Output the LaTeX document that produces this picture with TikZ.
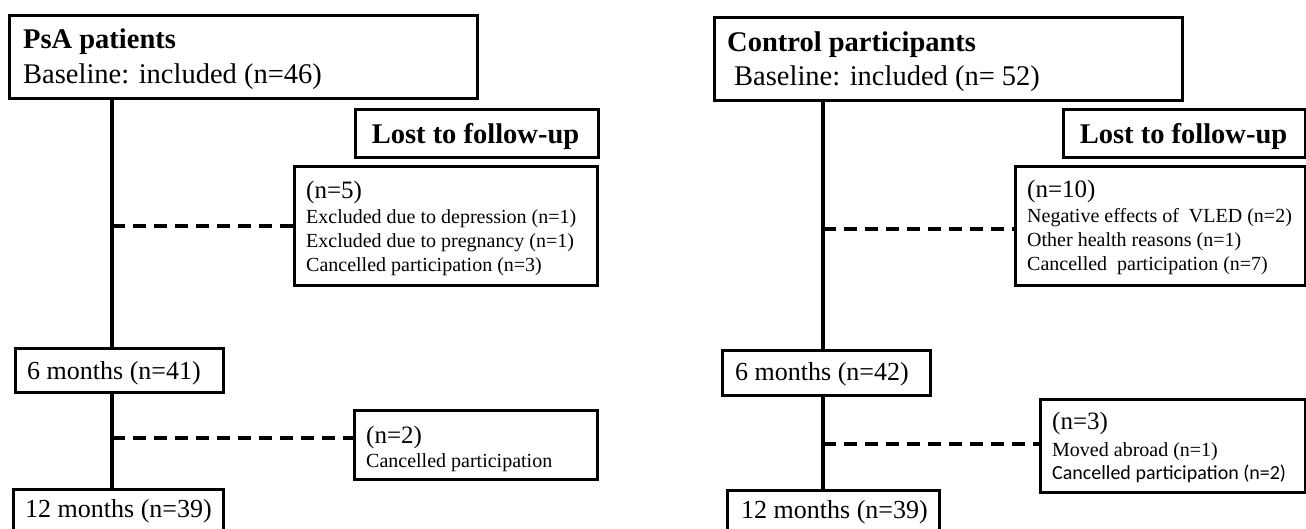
\documentclass[tikz,border=0pt]{standalone}
\usepackage{fontspec}
\setmainfont{Liberation Serif}
\newfontfamily\calibsans{Carlito}
\newcommand\szA{\fontsize{28.5}{34}\selectfont}
\newcommand\szB{\fontsize{25}{30}\selectfont}
\newcommand\szC{\fontsize{26}{31}\selectfont}
\newcommand\szD{\fontsize{20}{24}\selectfont}
\begin{document}
\begin{tikzpicture}[x=1pt,y=-1pt,
  box/.style={draw, line width=3.3pt, inner sep=0pt, anchor=north west},
  txt/.style={anchor=base west, inner sep=0pt},
  ctxt/.style={anchor=base, inner sep=0pt},
  vline/.style={line width=3.3pt},
  dline/.style={line width=3.6pt, dash pattern=on 13pt off 8pt}]
\useasboundingbox (0,0) rectangle (1306,528);
\clip (0,0) rectangle (1306,528);

% ---------- left panel ----------
\node[box, minimum width=468pt, minimum height=83pt] (psa) at (8,14) {};
\node[txt] (psat) at (23,48) {\szA\bfseries PsA patients};
\node[txt] (psab) at (23,83) {\szA Baseline: included (n=46)};

\node[box, minimum width=243pt, minimum height=48pt] (lostL) at (354,108) {};
\node[ctxt] (lostLt) at (475.5,143) {\szA\bfseries Lost to follow-up};

\node[box, minimum width=303pt, minimum height=119pt] (n5) at (293,165) {};
\node[txt] (n5a) at (306,198) {\szB (n=5)};
\node[txt] (n5b) at (306,223) {\szD Excluded due to depression (n=1)};
\node[txt] (n5c) at (306,247) {\szD Excluded due to pregnancy (n=1)};
\node[txt] (n5d) at (306,271) {\szD Cancelled participation (n=3)};

\node[box, minimum width=208pt, minimum height=44pt] (m6L) at (14,347) {};
\node[txt] (m6Lt) at (27,379) {\szC 6 months (n=41)};

\node[box, minimum width=243pt, minimum height=69pt] (n2) at (353,409) {};
\node[txt] (n2a) at (366,443) {\szB (n=2)};
\node[txt] (n2b) at (366,467) {\szD Cancelled participation};

\node[box, minimum width=210pt, minimum height=60pt] (m12L) at (12,488) {};
\node[txt] (m12Lt) at (25,517) {\szC 12 months (n=39)};

\coordinate (Lx) at (112,0);
\draw[vline] (psa.south -| Lx) -- (m6L.north -| Lx);
\draw[vline] (m6L.south -| Lx) -- (m12L.north -| Lx);
\coordinate (dL1) at (112,226);
\coordinate (dL2) at (112,438);
\draw[dline] (dL1) -- (dL1 -| n5.west);
\draw[dline] (dL2) -- (dL2 -| n2.west);

% ---------- right panel ----------
\node[box, minimum width=468pt, minimum height=83pt] (ctl) at (713,16) {};
\node[txt] (ctlt) at (727,51) {\szA\bfseries Control participants};
\node[txt] (ctlb) at (734,85) {\szA Baseline: included (n= 52)};

\node[box, minimum width=242pt, minimum height=48pt] (lostR) at (1062,108) {};
\node[ctxt] (lostRt) at (1183.5,143) {\szA\bfseries Lost to follow-up};

\node[box, minimum width=290pt, minimum height=119pt] (n10) at (1014,165) {};
\node[txt] (n10a) at (1027,197) {\szB (n=10)};
\node[txt] (n10b) at (1027,222) {\szD Negative effects of\ \ VLED (n=2)};
\node[txt] (n10c) at (1027,246) {\szD Other health reasons (n=1)};
\node[txt] (n10d) at (1027,270) {\szD Cancelled\ \ participation (n=7)};

\node[box, minimum width=208pt, minimum height=45pt] (m6R) at (721,349) {};
\node[txt] (m6Rt) at (735,380) {\szC 6 months (n=42)};

\node[box, minimum width=265pt, minimum height=93pt] (n3) at (1039,398) {};
\node[txt] (n3a) at (1052,429) {\szB (n=3)};
\node[txt] (n3b) at (1052,456) {\szD Moved abroad (n=1)};
\node[txt] (n3c) at (1052,479) {\calibsans\szD Cancelled participation (n=2)};

\node[box, minimum width=212pt, minimum height=60pt] (m12R) at (726,489) {};
\node[txt] (m12Rt) at (741,518) {\szC 12 months (n=39)};

\coordinate (Rx) at (823,0);
\draw[vline] (ctl.south -| Rx) -- (m6R.north -| Rx);
\draw[vline] (m6R.south -| Rx) -- (m12R.north -| Rx);
\coordinate (dR1) at (823,229);
\coordinate (dR2) at (823,444);
\draw[dline] (dR1) -- (dR1 -| n10.west);
\draw[dline] (dR2) -- (dR2 -| n3.west);
\end{tikzpicture}
\end{document}
